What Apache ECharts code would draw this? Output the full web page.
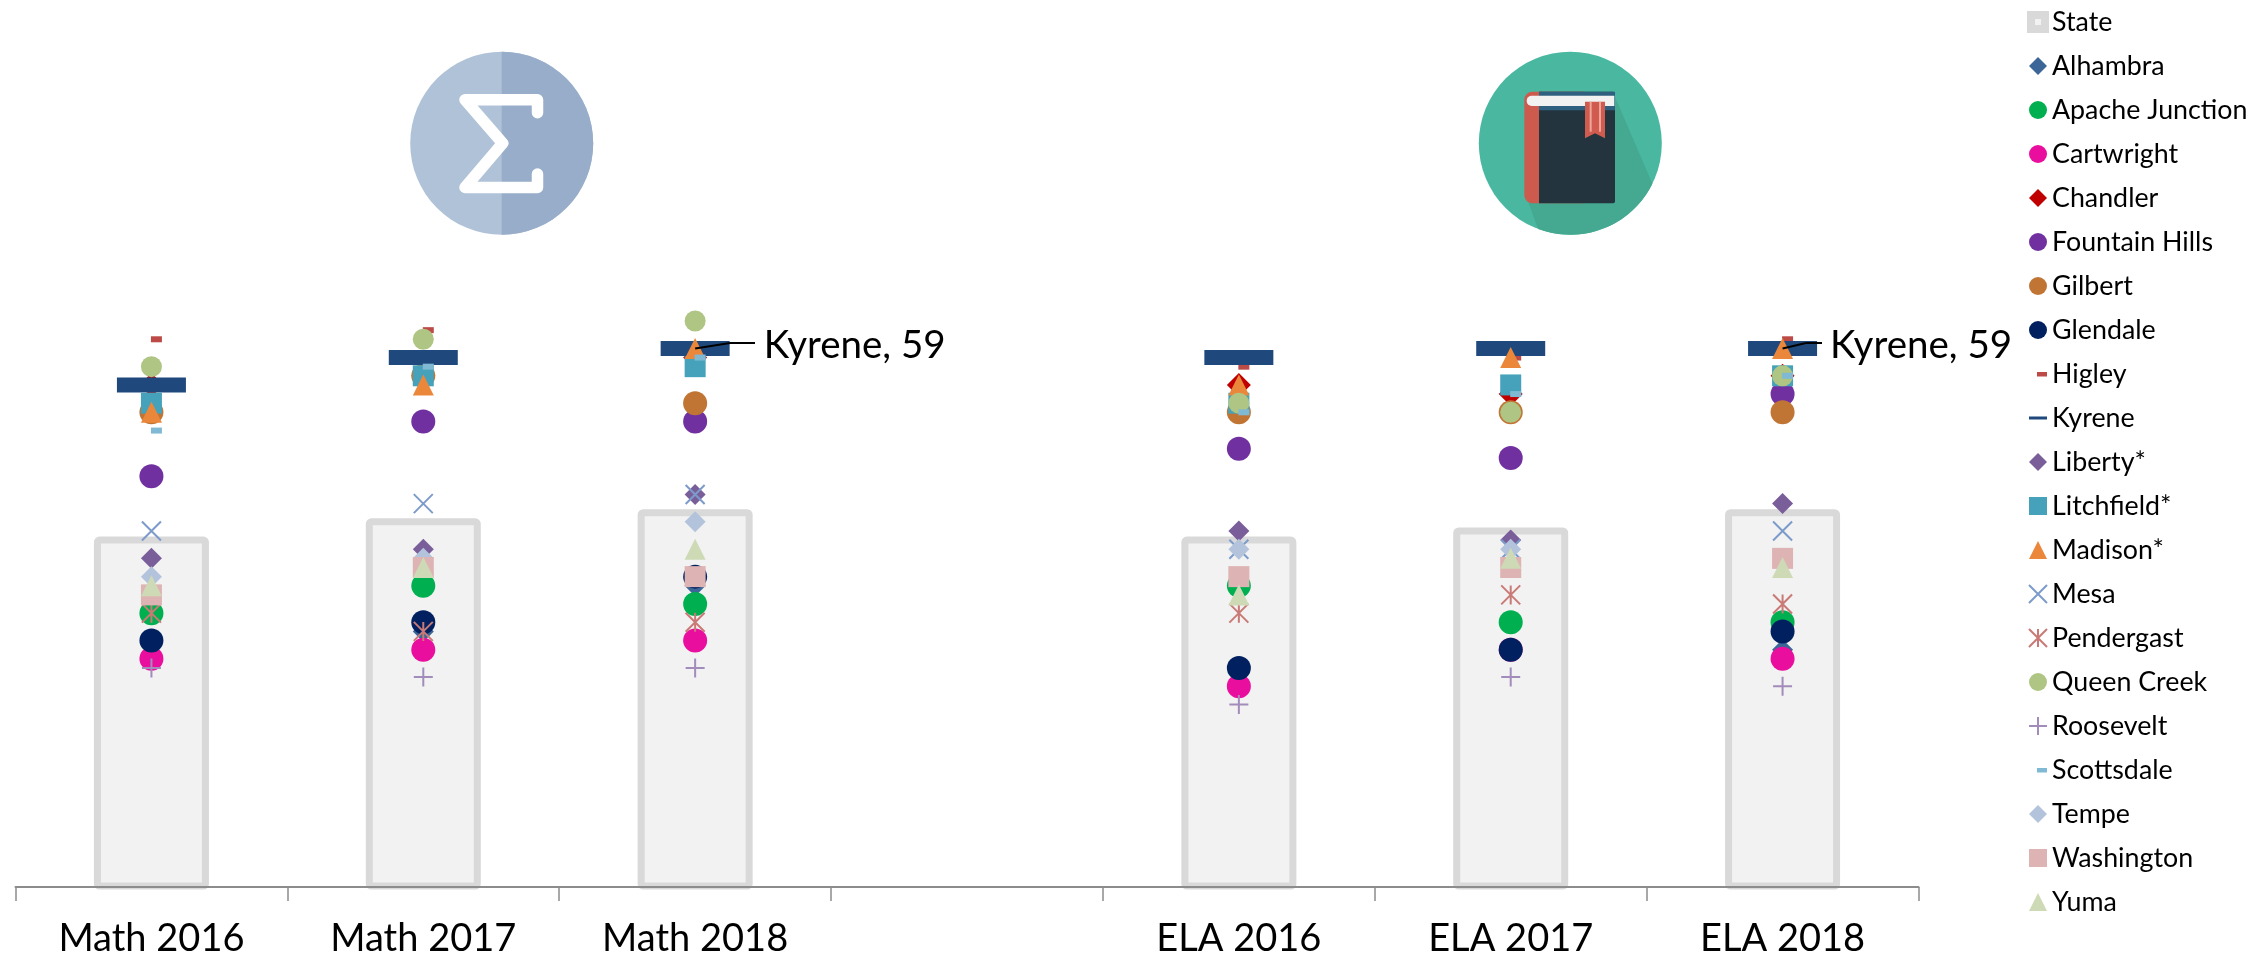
<!DOCTYPE html>
<html><head><meta charset="utf-8">
<style>html,body{margin:0;padding:0;background:#fff}#c{width:2267px;height:965px}</style>
<script src="https://cdn.jsdelivr.net/npm/echarts@6/dist/echarts.min.js"></script>
</head><body><div id="c"></div>
<script>
const categories = ['Math 2016','Math 2017','Math 2018','','ELA 2016','ELA 2017','ELA 2018'];
const State       = [38,40,41,null,38,39,41];
const Alhambra    = [27,28,33,null,24,26,26];
const Apache      = [30,33,31,null,33,29,29];
const Cartwright  = [25,26,27,null,22,26,25];
const Chandler    = [55,56,58,null,55,54,56];
const Fountain    = [45,51,51,null,48,47,54];
const Gilbert     = [52,56,53,null,52,52,52];
const Glendale    = [27,29,34,null,24,26,28];
const Higley      = [60,61,59,null,57,58,60];
const Kyrene      = [55,58,59,null,58,59,59];
const Liberty     = [36,37,43,null,39,38,42];
const Litchfield  = [53,56,57,null,53,55,56];
const Madison     = [52,55,59,null,55,58,59];
const Mesa        = [39,42,43,null,37,37,39];
const Pendergast  = [30,28,29,null,30,32,31];
const QueenCreek  = [57,60,62,null,53,52,56];
const Roosevelt   = [24,23,24,null,20,23,22];
const Scottsdale  = [50,57,58,null,52,54,56];
const Tempe       = [34,36,40,null,37,37,36];
const Washington  = [32,35,34,null,34,35,36];
const Yuma        = [33,35,37,null,32,36,35];

const P_X = 'path://M0,0L20,20M20,0L0,20';
const P_AST = 'path://M0,0L20,20M20,0L0,20M10,0L10,20';
const P_PLUS = 'path://M10,0L10,20M0,10L20,10';
const font = 'Lato, Carlito, Calibri, sans-serif';

function mk(name, data, color, symbol, size, extra){
  return Object.assign({name, type:'scatter', data, symbol, symbolSize:size, clip:false, z:3,
    itemStyle:{color, opacity:1}, emphasis:{disabled:true}}, extra||{});
}
function stroke(name,data,color,symbol,size){
  return mk(name,data,color,symbol,size,{itemStyle:{color:'rgba(0,0,0,0)',borderColor:color,borderWidth:2,opacity:1}});
}
const kyreneData = Kyrene.map((v,i)=> (i===2||i===6)
  ? {value:v,label:{show:true,position:'right',formatter:'Kyrene, 59',fontFamily:font,fontSize:38.5,color:'#000'}}
  : v);
const leader = (cat,val,x1,x2)=>[
  [{coord:[cat,val]},{x:x1,y:343}],
  [{x:x1,y:343},{x:x2,y:343}]
];

const series = [
  {name:'State',type:'custom',z:1,clip:false,
   data:State.map((v,i)=>[i,v]).filter(d=>d[1]!==null),
   encode:{x:0,y:1},silent:true,
   itemStyle:{color:'#F2F2F2',borderColor:'#D9D9D9',borderWidth:7},
   renderItem:(params,api)=>{
     const top=api.coord([api.value(0),api.value(1)]);
     const base=api.coord([api.value(0),0]);
     return {type:'rect',shape:{x:top[0]-54,y:top[1],width:108,height:base[1]-top[1]+(-1),r:2},
       style:{fill:'#F2F2F2',stroke:'#D9D9D9',lineWidth:7,lineJoin:'round'}};
   }},
  mk('Alhambra',Alhambra,'#3C6697','diamond',[21,21]),
  mk('Apache Junction',Apache,'#00B050','circle',24),
  mk('Cartwright',Cartwright,'#E90E9E','circle',24),
  mk('Chandler',Chandler,'#C00000','diamond',[24,24]),
  mk('Fountain Hills',Fountain,'#7030A0','circle',24),
  mk('Gilbert',Gilbert,'#C07535','circle',24),
  mk('Glendale',Glendale,'#002060','circle',24),
  mk('Higley',Higley,'#BC4B48','rect',[11,6],{symbolOffset:[5,0]}),
  mk('Kyrene',kyreneData,'#1F497D','rect',[69,15],{
    labelLayout:p=>({dx:p.dataIndex===2?29:8,dy:-3}),
    markLine:{silent:true,z:10,symbol:'none',animation:false,label:{show:false},emphasis:{disabled:true},
      lineStyle:{color:'#000',width:2,type:'solid'},
      data:[...leader('Math 2018',59,730,755),...leader('ELA 2018',59,1806,1822)]}}),
  mk('Liberty*',Liberty,'#7A5E9A','diamond',[21,21]),
  mk('Litchfield*',Litchfield,'#46A2BA','rect',[21,21]),
  mk('Madison*',Madison,'#EB873B','triangle',[21,21]),
  stroke('Mesa',Mesa,'#7C9BCB',P_X,[19,19]),
  stroke('Pendergast',Pendergast,'#C97A76',P_AST,[19,19]),
  mk('Queen Creek',QueenCreek,'#AFC583','circle',21),
  stroke('Roosevelt',Roosevelt,'#A28CBB',P_PLUS,[19,19]),
  mk('Scottsdale',Scottsdale,'#7FB9D3','rect',[11,6],{symbolOffset:[5,0]}),
  mk('Tempe',Tempe,'#B3C3DC','diamond',[21,21]),
  mk('Washington',Washington,'#DEB3B3','rect',[21,21]),
  mk('Yuma',Yuma,'#CDDAB5','triangle',[21,21])
];

const legendData = series.map(s=>{
  const d={name:s.name};
  if(s.name==='State'){d.icon='path://M0,0L0,0ZM2,2H16V16H2ZM18,18L18,18Z';d.itemStyle={color:'#F2F2F2',borderColor:'#D9D9D9',borderWidth:8};}
  if(s.name==='Higley')d.icon='path://M0,0L0,0ZM8,7H18V11.5H8ZM18,18L18,18Z';
  if(s.name==='Scottsdale')d.icon='path://M0,0L0,0ZM8,7H18V11.5H8ZM18,18L18,18Z';
  if(s.name==='Kyrene')d.icon='path://M0,0L0,0ZM0,7.5H18V10.5H0ZM18,18L18,18Z';
  if(s.name==='Apache Junction'||s.name==='Cartwright'||s.name==='Fountain Hills'||s.name==='Gilbert'||s.name==='Glendale')d.icon='circle';
  return d;
});

// decorative icons
const bx=z=>1460+z/3, by=z=>30+z/3;
const cx=1570.3, cy=143.3, R=91.5;
const shadowPts=[[bx(465),by(200)]];
{
  const a0=Math.atan2(by(460)-cy,bx(575)-cx), a1=Math.atan2(by(595)-cy,bx(235)-cx);
  for(let i=0;i<=20;i++){const a=a0+(a1-a0)*i/20;shadowPts.push([cx+R*Math.cos(a),cy+R*Math.sin(a)]);}
  shadowPts.push([bx(195),by(490)],[bx(237),by(500)]);
}
const graphic=[
  {type:'circle',shape:{cx:501.7,cy:143.3,r:91.5},style:{fill:'#B0C2D8'},z:0,silent:true},
  {type:'sector',shape:{cx:501.7,cy:143.3,r:91.5,r0:0,startAngle:-Math.PI/2,endAngle:Math.PI/2},style:{fill:'#97ADC9'},z:0,silent:true},
  {type:'polyline',shape:{points:[[537.5,112.7],[537.5,99.8],[465,99.8],[502.7,143.3],[465,187.5],[537.5,187.5],[537.5,174]]},
   style:{stroke:'#fff',lineWidth:11.5,fill:null,lineJoin:'round',lineCap:'round'},z:0,silent:true},
  {type:'circle',shape:{cx,cy,r:R},style:{fill:'#4AB8A1'},z:0,silent:true},
  {type:'polygon',shape:{points:shadowPts},style:{fill:'#45A890'},z:0,silent:true},
  {type:'rect',shape:{x:bx(193),y:by(185),width:60,height:(520-185)/3,r:[8,0,0,8]},style:{fill:'#CC5B4E'},z:0,silent:true},
  {type:'rect',shape:{x:bx(237),y:by(185),width:(465-237)/3,height:(520-185)/3,r:[0,2,2,0]},style:{fill:'#24343F'},z:0,silent:true},
  {type:'rect',shape:{x:bx(237),y:by(185),width:(465-237)/3,height:56/3},style:{fill:'#2F6080'},z:0,silent:true},
  {type:'rect',shape:{x:bx(200),y:by(197),width:(463-200)/3,height:31/3,r:[5,0,0,5]},style:{fill:'#F2F2F2'},z:0,silent:true},
  {type:'polygon',shape:{points:[[bx(375),by(215)],[bx(435),by(215)],[bx(435),by(325)],[bx(405),by(310)],[bx(375),by(325)]]},style:{fill:'#CF5C4E'},z:0,silent:true},
  {type:'rect',shape:{x:bx(389),y:by(215),width:2,height:30},style:{fill:'#F0A59B'},z:0,silent:true},
  {type:'rect',shape:{x:bx(417),y:by(215),width:2,height:30},style:{fill:'#F0A59B'},z:0,silent:true}
];

const chart=echarts.init(document.getElementById('c'),null,{renderer:'canvas'});
chart.setOption({
  animation:false,
  backgroundColor:'#fff',
  grid:{left:15.5,right:348.5,top:248,bottom:78,containLabel:false},
  xAxis:{type:'category',data:categories,z:2,
    axisLine:{lineStyle:{color:'#8C8C8C',width:2}},
    axisTick:{show:true,length:14,lineStyle:{color:'#8C8C8C',width:1.5},alignWithLabel:false},
    axisLabel:{interval:0,fontFamily:font,fontSize:38,color:'#000',margin:33}},
  yAxis:{type:'value',min:0,max:70,show:false,splitLine:{show:false}},
  legend:{orient:'vertical',left:2025,top:7,padding:0,itemWidth:18,itemHeight:18,itemGap:14,selectedMode:false,
    textStyle:{fontFamily:font,fontSize:26.8,color:'#000',lineHeight:30},data:legendData},
  tooltip:{show:false},
  graphic,
  series
});
</script></body></html>
